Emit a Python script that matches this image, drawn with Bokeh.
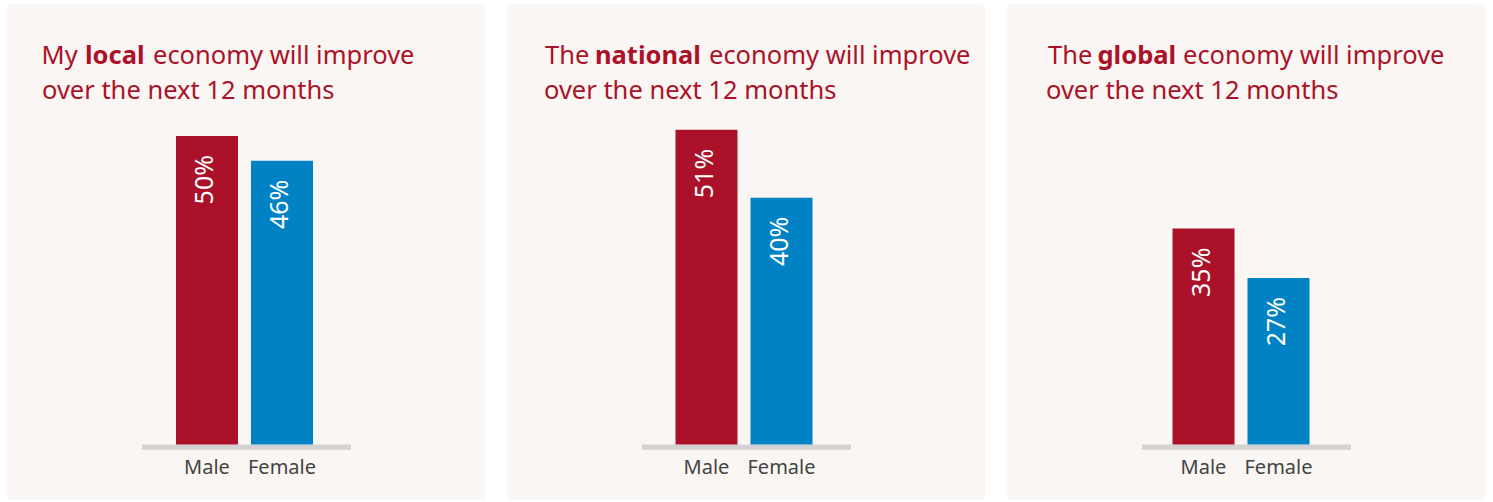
import math
from bokeh.plotting import figure
from bokeh.models import ColumnDataSource, FactorRange, Range1d, Label, BoxAnnotation
from bokeh.layouts import row
from bokeh.embed import file_html
from bokeh.resources import INLINE
from bokeh.core.properties import value

# ---------------- data ----------------
genders = ["Male", "Female"]
local_values = [50, 46]
national_values = [51, 40]
global_values = [35, 27]
panel_values = [local_values, national_values, global_values]

title_prefix = ["My", "The", "The"]
title_bold = ["local", "national", "global"]
title_rest = "economy will improve"
title_line2 = "over the next 12 months"

# ---------------- style / layout ----------------
BAR_COLORS = ["#AB1229", "#0082C4"]
TITLE_COLOR = "#AB1229"
BG = "#F9F6F3"
BASE_GRAY = "#D3D3D3"
LABEL_GRAY = "#444444"
FONT = "Noto Sans"

PANEL_W, PANEL_H = 478, 496
PX_PER_UNIT = 75.0
PX_PER_PCT = 6.17
BASE_PX = 56                      # baseline distance from panel bottom
FRAME_W = [474, 473, 467]         # frame width per panel (bar group centring)

# title piece origins (px inside panel): prefix, bold, rest, line2
title_x = [(34, 77.5, 145.5, 34.5), (37.5, 87.5, 201.5, 36.5), (40.5, 90, 175.5, 38.5)]
LABEL_CAL = 9.5                   # Label baseline calibration
LINE1_Y = PANEL_H - 59 + LABEL_CAL
LINE2_Y = PANEL_H - 94 + LABEL_CAL


def make_panel(i):
    vals = panel_values[i]
    fw = FRAME_W[i]
    rp = (fw / PX_PER_UNIT - 2) / 2
    p = figure(
        width=PANEL_W, height=PANEL_H,
        x_range=FactorRange(*genders, range_padding=rp, range_padding_units="percent"),
        y_range=Range1d(-BASE_PX / PX_PER_PCT, (PANEL_H - BASE_PX) / PX_PER_PCT),
        x_axis_type=None, y_axis_type=None,
        toolbar_location=None, output_backend="svg",
        min_border_left=0, min_border_right=PANEL_W - fw,
        min_border_top=0, min_border_bottom=0,
        background_fill_color=BG, border_fill_color=BG, outline_line_color=None,
    )
    p.grid.visible = False

    src = ColumnDataSource(dict(
        gender=genders,
        value=vals,
        label=[f"{v}%" for v in vals],
        color=BAR_COLORS,
        zero=[0] * len(genders),
    ))

    p.vbar(x="gender", top="value", bottom=0, width=62 / PX_PER_UNIT,
           fill_color="color", line_color=None, source=src)

    p.text(x="gender", y="value", text="label", source=src,
           angle=math.pi / 2, text_align="right", text_baseline="middle",
           y_offset=19, x_offset=-4,
           text_color="white", text_font=value(FONT), text_font_size="25px")

    # baseline (centred on the panel)
    half = 104.5 / PX_PER_UNIT
    center_units = 1 + (PANEL_W / 2 - fw / 2) / PX_PER_UNIT
    p.add_layout(BoxAnnotation(left=center_units - half, right=center_units + half,
                               top=0, bottom=-5.3 / PX_PER_PCT,
                               fill_color=BASE_GRAY, fill_alpha=1, line_color=None,
                               level="underlay"))

    p.text(x="gender", y="zero", text="gender", source=src,
           y_offset=21.5, text_align="center", text_baseline="middle",
           text_color=LABEL_GRAY, text_font=value(FONT), text_font_size="20px")

    # title
    x0, x1, x2, x3 = title_x[i]
    common = dict(x_units="screen", y_units="screen", text_color=TITLE_COLOR,
                  text_font=FONT, text_font_size="25.5px", text_baseline="alphabetic",
                  text_align="left")
    p.add_layout(Label(x=x0, y=LINE1_Y, text=title_prefix[i], **common))
    p.add_layout(Label(x=x1, y=LINE1_Y, text=title_bold[i], text_font_style="bold", **common))
    p.add_layout(Label(x=x2, y=LINE1_Y, text=title_rest, **common))
    p.add_layout(Label(x=x3, y=LINE2_Y, text=title_line2, **common))
    return p


layout = row(*[make_panel(i) for i in range(3)], spacing=22, margin=(4, 0, 0, 7))
open("out.html", "w").write(file_html(layout, INLINE))
